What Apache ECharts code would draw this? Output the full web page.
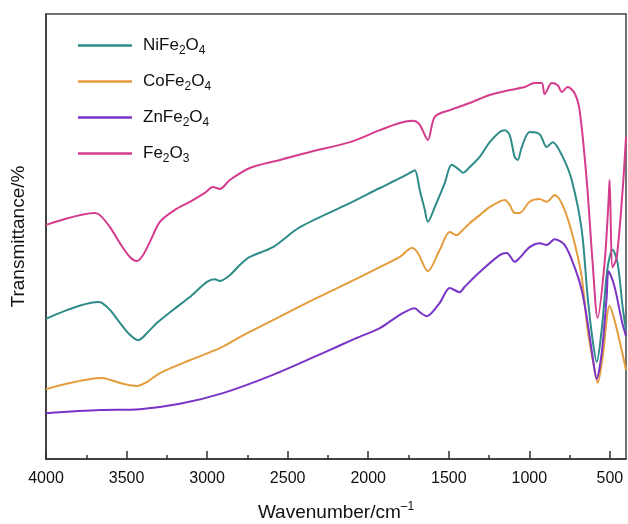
<!DOCTYPE html>
<html>
<head>
<meta charset="utf-8">
<script src="https://cdn.jsdelivr.net/npm/echarts/dist/echarts.min.js"></script>
<style>
  html, body { margin: 0; padding: 0; background: #fff; }
  #main { width: 628px; height: 524px; }
</style>
</head>
<body>
<div id="main"></div>
<script>
// FTIR spectra, wavenumber (cm-1) vs transmittance (arb.)
var niWave = [4000, 3677, 3653, 3603, 3541, 3479, 3429, 3355, 3311, 3212, 3107, 3001, 2952, 2921, 2859, 2797, 2735, 2592, 2424, 2114,
  1928, 1804, 1742, 1711, 1680, 1649, 1630, 1587, 1525, 1482, 1432, 1413, 1370, 1308, 1246, 1184, 1153, 1122, 1091, 1072,
  1047, 998, 936, 892, 855, 793, 737, 675, 638, 607, 582, 551, 514, 483, 452, 421, 400];
var niT = [31.5, 35.3, 35.1, 33.5, 30.6, 27.9, 26.7, 29.0, 30.6, 33.5, 36.4, 39.8, 40.4, 40.0, 41.3, 43.6, 45.4, 47.6, 52.1, 57.5,
  60.9, 63.1, 64.3, 64.9, 60.4, 56.0, 53.3, 56.6, 62.0, 66.1, 64.9, 64.3, 65.6, 67.9, 71.2, 73.5, 73.9, 72.8, 67.9, 67.2,
  70.1, 73.5, 73.0, 70.1, 71.2, 67.9, 62.7, 51.5, 36.4, 26.7, 21.8, 29.0, 43.1, 47.0, 44.0, 34.2, 29.0];

var coWave = [4000, 3653, 3603, 3522, 3436, 3373, 3293, 3107, 2921, 2797, 2592, 2381, 2176, 1928, 1804, 1730, 1692, 1630, 1556, 1494,
  1451, 1432, 1370, 1308, 1246, 1153, 1122, 1091, 1060, 998, 936, 892, 843, 781, 719, 675, 638, 595, 576, 545,
  502, 471, 427, 400];
var coT = [15.7, 18.2, 17.8, 16.9, 16.4, 17.3, 19.3, 22.2, 24.9, 27.4, 31.2, 35.1, 38.7, 43.1, 45.4, 47.4, 46.3, 42.2, 47.0, 51.0,
  50.3, 50.8, 53.0, 54.8, 56.6, 58.2, 57.1, 55.3, 55.3, 57.8, 58.4, 57.8, 59.3, 56.0, 48.5, 40.9, 29.0, 20.0, 17.1, 22.9,
  34.4, 31.2, 24.5, 20.0];

var znWave = [4000, 3665, 3417, 3169, 2902, 2592, 2282, 2071, 1928, 1804, 1711, 1680, 1637, 1556, 1494, 1432, 1401, 1308, 1184, 1140,
  1103, 1091, 1060, 998, 936, 892, 843, 781, 719, 675, 638, 607, 582, 551, 520, 508, 471, 427, 400];
var znT = [10.3, 11.0, 11.2, 12.4, 14.8, 18.9, 23.8, 27.2, 29.4, 32.4, 33.9, 33.0, 32.1, 35.1, 38.4, 37.5, 38.7, 42.0, 45.8, 46.3,
  44.7, 44.3, 45.2, 47.6, 48.5, 48.1, 49.4, 48.1, 43.1, 38.0, 30.6, 22.9, 18.0, 23.8, 36.4, 42.2, 38.7, 31.2, 27.6];

var feWave = [4000, 3696, 3665, 3603, 3541, 3479, 3436, 3398, 3355, 3293, 3200, 3107, 3014, 2964, 2921, 2859, 2735, 2548, 2362, 2114,
  1928, 1804, 1723, 1680, 1630, 1587, 1494, 1370, 1246, 1122, 1029, 967, 923, 905, 861, 824, 799, 762, 719, 688,
  644, 607, 576, 533, 508, 502, 483, 458, 421, 400];
var feT = [52.6, 55.3, 54.8, 52.1, 48.5, 45.4, 44.5, 45.8, 48.8, 53.3, 56.0, 57.8, 59.8, 61.1, 60.7, 62.7, 65.4, 67.2, 69.0, 71.2,
  73.9, 75.5, 76.0, 75.1, 71.7, 76.9, 78.4, 80.0, 81.8, 82.9, 83.6, 84.5, 84.5, 82.0, 84.5, 84.0, 82.5, 83.6, 82.2, 78.4,
  62.7, 44.0, 31.7, 44.0, 58.2, 62.7, 43.1, 45.2, 60.4, 72.4];

var majorTicks = [4000, 3500, 3000, 2500, 2000, 1500, 1000, 500];
var minorTicks = [3750, 3250, 2750, 2250, 1750, 1250, 750];

var seriesNames = ["NiFe2O4", "CoFe2O4", "ZnFe2O4", "Fe2O3"];
var seriesColors = ["#2e8c88", "#e49c3c", "#7a34c6", "#d43c8c"];
var legendRich = {
  NiFe2O4: "{t|NiFe}{s|2}{t|O}{s|4}",
  CoFe2O4: "{t|CoFe}{s|2}{t|O}{s|4}",
  ZnFe2O4: "{t|ZnFe}{s|2}{t|O}{s|4}",
  Fe2O3: "{t|Fe}{s|2}{t|O}{s|3}"
};

function pairs(xs, ys) {
  var out = [];
  for (var i = 0; i < xs.length; i++) out.push([xs[i], ys[i]]);
  return out;
}

var allData = [pairs(niWave, niT), pairs(coWave, coT), pairs(znWave, znT), pairs(feWave, feT)];

var myChart = echarts.init(document.getElementById("main"));
var font = "Liberation Sans, Arial, sans-serif";

myChart.setOption({
  animation: false,
  color: seriesColors,
  grid: {
    left: 46,
    right: 2,
    top: 14,
    bottom: 65,
    outerBoundsMode: "none",
    containLabel: false,
    show: true,
    borderColor: "#444",
    borderWidth: 1.5
  },
  legend: {
    orient: "vertical",
    left: 73,
    top: 32,
    icon: "rect",
    itemWidth: 54,
    itemHeight: 2.5,
    itemGap: 16.5,
    data: seriesNames,
    formatter: function (name) {
      return legendRich[name];
    },
    textStyle: {
      padding: [0, 0, 0, 6],
      rich: {
        t: { fontSize: 17, fontFamily: font, color: "#111", lineHeight: 22 },
        s: { fontSize: 12, fontFamily: font, color: "#111", lineHeight: 10, verticalAlign: "bottom" }
      }
    }
  },
  xAxis: [
    {
      type: "value",
      min: 400,
      max: 4000,
      inverse: true,
      name: "{a|Wavenumber/cm}{b|–1}",
      nameLocation: "middle",
      nameGap: 42,
      nameTextStyle: {
        rich: {
          a: { fontSize: 19, fontFamily: font, color: "#111", lineHeight: 24 },
          b: { fontSize: 12, fontFamily: font, color: "#111", lineHeight: 12, verticalAlign: "top" }
        }
      },
      axisLine: { show: true, lineStyle: { color: "#333", width: 1.5 } },
      axisTick: { inside: true, length: 8, customValues: majorTicks, lineStyle: { color: "#333", width: 1.5 } },
      axisLabel: {
        customValues: majorTicks,
        formatter: function (v) { return String(v); },
        fontSize: 16,
        fontFamily: font,
        color: "#111",
        margin: 12
      },
      splitLine: { show: false }
    },
    {
      // minor ticks only
      type: "value",
      min: 400,
      max: 4000,
      inverse: true,
      position: "bottom",
      axisLine: { show: false },
      axisTick: { inside: true, length: 4, customValues: minorTicks, lineStyle: { color: "#333", width: 1.5 } },
      axisLabel: { show: false },
      splitLine: { show: false }
    }
  ],
  yAxis: {
    type: "value",
    min: 0,
    max: 100,
    name: "Transmittance/%",
    nameLocation: "middle",
    nameGap: 18,
    nameTextStyle: { fontSize: 19, fontFamily: font, color: "#111" },
    axisLine: { show: true, lineStyle: { color: "#333", width: 1.5 } },
    axisTick: { show: false },
    axisLabel: { show: false },
    splitLine: { show: false }
  },
  series: seriesNames.map(function (name, i) {
    return {
      name: name,
      type: "line",
      xAxisIndex: 0,
      data: allData[i],
      showSymbol: false,
      symbol: "none",
      smooth: 0.3,
      lineStyle: { width: 2, color: seriesColors[i] }
    };
  })
});
</script>
</body>
</html>
